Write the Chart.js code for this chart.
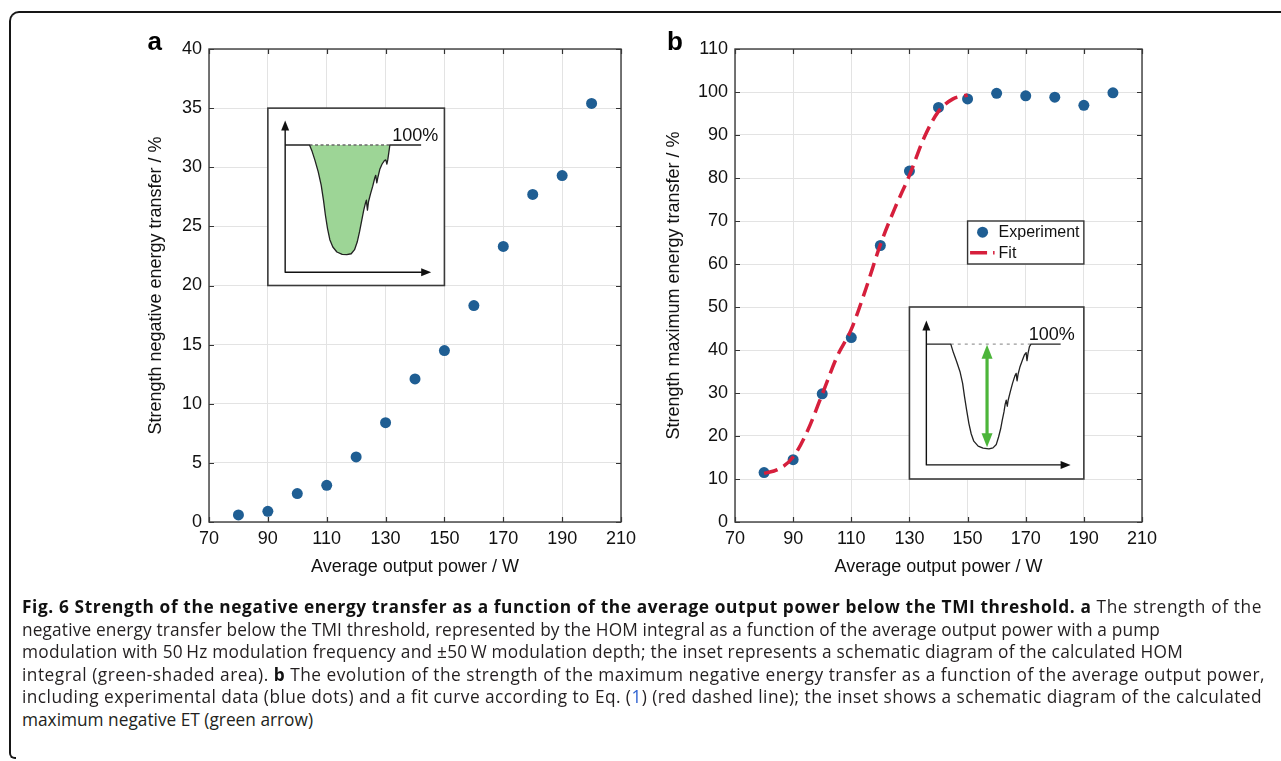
<!DOCTYPE html>
<html><head><meta charset="utf-8">
<script src="https://cdn.jsdelivr.net/npm/chart.js@4.4.1/dist/chart.umd.min.js"></script>
<style>
html,body{margin:0;padding:0;background:#fff;}
body{width:1281px;height:761px;position:relative;overflow:hidden;font-family:"Liberation Sans",Arial,sans-serif;}
canvas{position:absolute;top:0;}
#ca{left:100px;} #cb{left:640px;}
.frm1{position:absolute;left:9px;top:11px;width:1300px;height:720px;border-left:2px solid #161616;border-top:2px solid #161616;border-top-left-radius:10px;}
.frm2{position:absolute;left:9px;top:700px;width:5px;height:57px;border-left:2px solid #161616;border-bottom:2px solid #161616;border-bottom-left-radius:6px;}
.ln{position:absolute;left:22px;white-space:nowrap;font-family:"Open Sans","Noto Sans",sans-serif;font-size:17.3px;line-height:22px;color:#231f20;}
.ln b{font-weight:700;color:#111;}
.blue{color:#2a5fd0;}
</style></head>
<body>
<div class="frm1"></div><div class="frm2"></div>
<canvas id="ca" width="560" height="600"></canvas>
<canvas id="cb" width="560" height="600"></canvas>
<div class="ln" data-end="1262" style="top:596px"><b>Fig. 6 Strength of the negative energy transfer as a function of the average output power below the TMI threshold. a</b> The strength of the</div>
<div class="ln" data-end="1160" style="top:618.6px">negative energy transfer below the TMI threshold, represented by the HOM integral as a function of the average output power with a pump</div>
<div class="ln" data-end="1183" style="top:641.2px">modulation with 50&#8201;Hz modulation frequency and ±50&#8201;W modulation depth; the inset represents a schematic diagram of the calculated HOM</div>
<div class="ln" data-end="1265" style="top:663.8px">integral (green-shaded area). <b>b</b> The evolution of the strength of the maximum negative energy transfer as a function of the average output power,</div>
<div class="ln" data-end="1262" style="top:686.4px">including experimental data (blue dots) and a fit curve according to Eq. (<span class="blue">1</span>) (red dashed line); the inset shows a schematic diagram of the calculated</div>
<div class="ln" style="top:709px">maximum negative ET (green arrow)</div>
<script>
// ---------- DATA ----------
const xTickValues = [70, 90, 110, 130, 150, 170, 190, 210];
const yTickValuesA = [0, 5, 10, 15, 20, 25, 30, 35, 40];
const yTickValuesB = [0, 10, 20, 30, 40, 50, 60, 70, 80, 90, 100, 110];

const powerA = [80, 90, 100, 110, 120, 130, 140, 150, 160, 170, 180, 190, 200];
const strengthNegative = [0.6, 0.9, 2.4, 3.1, 5.5, 8.4, 12.1, 14.5, 18.3, 23.3, 27.7, 29.3, 35.4];

const powerB = [80, 90, 100, 110, 120, 130, 140, 150, 160, 170, 180, 190, 200];
const strengthMaximum = [11.5, 14.5, 29.8, 42.9, 64.3, 81.6, 96.4, 98.4, 99.7, 99.1, 98.8, 96.9, 99.8];

const fitPower = [80, 85, 90, 95, 100, 105, 110, 115, 120, 125, 130, 135, 140, 145, 150];
const fitStrength = [11.3, 12.3, 15.1, 21.3, 29.7, 38.3, 44.8, 54.2, 64.5, 73.0, 80.6, 89.3, 95.5, 98.4, 99.3];

const seriesLabels = ['Experiment', 'Fit'];

// schematic inset outlines (normalised 0..100 inside inset box)
const insetCurveA = [[23.6,20.8],[25.1,24.5],[26.6,29.2],[28.5,35.8],[30.2,43.4],[31.5,51.9],[32.6,60.4],[33.8,67.9],[35.1,74.2],[36.8,78.3],[39.1,81.1],[42.1,82.5],[44.7,82.6],[47.2,82.1],[49.1,79.8],[50.6,75.5],[51.9,69.8],[53.2,63.2],[54.3,57.5],[55.3,53.4],[55.8,51.9],[56.4,57.5],[57.0,52.8],[58.1,48.5],[59.4,44.0],[60.6,39.1],[61.1,37.9],[61.7,42.1],[62.3,39.1],[63.4,34.5],[64.7,31.5],[66.0,29.6],[66.8,29.2],[67.4,31.5],[67.9,29.2],[68.5,25.1],[69.1,20.8]];
const insetCurveB = [[23.7,21.6],[25.2,26.5],[27.1,31.8],[29.0,37.6],[30.5,44.4],[31.6,52.2],[32.8,60.0],[34.1,67.8],[35.4,73.7],[36.9,78.0],[39.4,80.9],[42.2,82.1],[45.6,82.5],[47.9,81.9],[49.8,79.9],[51.1,75.6],[52.3,70.8],[53.2,65.9],[54.2,61.0],[54.9,56.5],[55.5,54.2],[56.1,57.7],[56.6,54.2],[57.8,49.3],[59.1,44.4],[60.4,40.2],[61.2,38.6],[61.7,42.9],[62.3,39.0],[63.4,34.7],[64.8,30.8],[65.9,27.9],[66.9,26.5],[67.4,31.2],[68.0,26.9],[68.8,23.0],[69.7,21.6]];

// ---------- STYLE ----------
const FONT = '"Liberation Sans", Arial, sans-serif';
const DOT = '#1f5e93';
const RED = '#d61f3c';
const GREEN_FILL = '#9dd596';
const GREEN = '#4cb53a';

function insetBox(chart, b) {
  const xs = chart.scales.x, ys = chart.scales.y;
  const x0 = xs.getPixelForValue(b[0]), x1 = xs.getPixelForValue(b[1]);
  const y0 = ys.getPixelForValue(b[3]), y1 = ys.getPixelForValue(b[2]);
  return {x0, y0, W: x1 - x0, H: y1 - y0};
}

function drawInset(chart, spec) {
  const ctx = chart.ctx;
  const {x0, y0, W, H} = insetBox(chart, spec.box);
  const P = (u, v) => [x0 + u / 100 * W, y0 + v / 100 * H];
  ctx.save();
  ctx.fillStyle = '#fff'; ctx.fillRect(x0, y0, W, H);
  ctx.strokeStyle = '#3a3a3a'; ctx.lineWidth = 1.6; ctx.strokeRect(x0, y0, W, H);
  const c = spec.curve;
  if (spec.fill) {
    ctx.beginPath();
    c.forEach((p, i) => { const q = P(p[0], p[1]); i ? ctx.lineTo(q[0], q[1]) : ctx.moveTo(q[0], q[1]); });
    ctx.closePath(); ctx.fillStyle = spec.fill; ctx.fill();
  }
  ctx.beginPath(); ctx.setLineDash(spec.dash); ctx.strokeStyle = spec.dashColor; ctx.lineWidth = 1.4;
  let a = P(c[0][0], spec.base), e = P(c[c.length - 1][0], spec.base);
  ctx.moveTo(a[0], a[1]); ctx.lineTo(e[0], e[1]); ctx.stroke(); ctx.setLineDash([]);
  ctx.beginPath(); ctx.strokeStyle = '#222'; ctx.lineWidth = 1.3; ctx.lineJoin = 'round';
  let s = P(spec.axisU, spec.base); ctx.moveTo(s[0], s[1]);
  c.forEach(p => { const q = P(p[0], p[1]); ctx.lineTo(q[0], q[1]); });
  let f = P(spec.baseEnd, spec.base); ctx.lineTo(f[0], f[1]); ctx.stroke();
  ctx.beginPath(); ctx.strokeStyle = '#111'; ctx.lineWidth = 1.4;
  const o = P(spec.axisU, spec.axisV), t1 = P(spec.axisU, spec.tipV), t2 = P(spec.tipU, spec.axisV);
  ctx.moveTo(t1[0], t1[1] + 6); ctx.lineTo(o[0], o[1]); ctx.lineTo(t2[0] - 6, t2[1]); ctx.stroke();
  ctx.fillStyle = '#111';
  ctx.beginPath(); ctx.moveTo(t1[0], t1[1]); ctx.lineTo(t1[0] - 4, t1[1] + 10); ctx.lineTo(t1[0] + 4, t1[1] + 10); ctx.closePath(); ctx.fill();
  ctx.beginPath(); ctx.moveTo(t2[0], t2[1]); ctx.lineTo(t2[0] - 10, t2[1] - 4); ctx.lineTo(t2[0] - 10, t2[1] + 4); ctx.closePath(); ctx.fill();
  if (spec.arrow) {
    const top = P(spec.arrow[0], spec.arrow[1]), bot = P(spec.arrow[0], spec.arrow[2]);
    ctx.strokeStyle = GREEN; ctx.fillStyle = GREEN; ctx.lineWidth = 3.2;
    ctx.beginPath(); ctx.moveTo(top[0], top[1] + 10); ctx.lineTo(bot[0], bot[1] - 10); ctx.stroke();
    ctx.beginPath(); ctx.moveTo(top[0], top[1]); ctx.lineTo(top[0] - 5.5, top[1] + 14); ctx.lineTo(top[0] + 5.5, top[1] + 14); ctx.closePath(); ctx.fill();
    ctx.beginPath(); ctx.moveTo(bot[0], bot[1]); ctx.lineTo(bot[0] - 5.5, bot[1] - 14); ctx.lineTo(bot[0] + 5.5, bot[1] - 14); ctx.closePath(); ctx.fill();
  }
  const lp = P(spec.textU, spec.textV);
  ctx.fillStyle = '#111'; ctx.font = '18px ' + FONT; ctx.textAlign = 'left'; ctx.textBaseline = 'alphabetic';
  ctx.fillText('100%', lp[0], lp[1]);
  ctx.restore();
}

function drawLegend(chart, box) {
  const ctx = chart.ctx;
  const {x0, y0, W, H} = insetBox(chart, box);
  ctx.save();
  ctx.fillStyle = '#fff'; ctx.fillRect(x0, y0, W, H);
  ctx.strokeStyle = '#333'; ctx.lineWidth = 1.4; ctx.strokeRect(x0, y0, W, H);
  ctx.fillStyle = DOT; ctx.beginPath(); ctx.arc(x0 + 15, y0 + H * 0.26, 5.5, 0, Math.PI * 2); ctx.fill();
  ctx.strokeStyle = RED; ctx.lineWidth = 3.5; ctx.setLineDash([17, 6]);
  ctx.beginPath(); ctx.moveTo(x0 + 2.5, y0 + H * 0.74); ctx.lineTo(x0 + 27, y0 + H * 0.74); ctx.stroke(); ctx.setLineDash([]);
  ctx.fillStyle = '#111'; ctx.font = '16px ' + FONT; ctx.textBaseline = 'middle'; ctx.textAlign = 'left';
  ctx.fillText(seriesLabels[0], x0 + 31, y0 + H * 0.27);
  ctx.fillText(seriesLabels[1], x0 + 31, y0 + H * 0.75);
  ctx.restore();
}

const decorPlugin = {
  id: 'decor',
  afterDatasetsDraw(chart, args, opts) {
    if (opts.inset) drawInset(chart, opts.inset);
    if (opts.legendBox) drawLegend(chart, opts.legendBox);
  },
  afterDraw(chart, args, opts) {
    const {ctx, chartArea: {left, right, top, bottom}, scales: {x, y}} = chart;
    ctx.save();
    ctx.strokeStyle = '#333'; ctx.lineWidth = 1.2;
    ctx.beginPath();
    y.ticks.forEach(t => { const p = Math.round(y.getPixelForValue(t.value)) + 0.5;
      ctx.moveTo(left, p); ctx.lineTo(left + 5, p); ctx.moveTo(right, p); ctx.lineTo(right - 5, p); });
    x.ticks.forEach(t => { const p = Math.round(x.getPixelForValue(t.value)) + 0.5;
      ctx.moveTo(p, bottom); ctx.lineTo(p, bottom - 5); ctx.moveTo(p, top); ctx.lineTo(p, top + 5); });
    ctx.stroke();
    ctx.strokeStyle = '#3c3c3c'; ctx.lineWidth = 1.4;
    ctx.strokeRect(left, top, right - left, bottom - top);
    ctx.fillStyle = '#000'; ctx.font = 'bold 26px ' + FONT; ctx.textAlign = 'left'; ctx.textBaseline = 'alphabetic';
    ctx.fillText(opts.panel, opts.panelX, 50);
    ctx.restore();
  }
};

function axisX() {
  return {
    type: 'linear', min: xTickValues[0], max: xTickValues[xTickValues.length - 1],
    afterBuildTicks: s => { s.ticks = xTickValues.map(v => ({value: v})); },
    afterFit: s => { s.height = 78; },
    grid: {color: '#e3e3e3', lineWidth: 1, drawTicks: false},
    border: {display: false},
    ticks: {padding: 6, color: '#111', font: {family: FONT, size: 18}, maxRotation: 0, autoSkip: false},
    title: {display: true, text: 'Average output power / W', color: '#111', font: {family: FONT, size: 18}, padding: {top: 0, bottom: 22.5}}
  };
}
function axisY(vals, width, title, pt) {
  return {
    type: 'linear', min: vals[0], max: vals[vals.length - 1],
    afterBuildTicks: s => { s.ticks = vals.map(v => ({value: v})); },
    afterFit: s => { s.width = width; },
    grid: {color: '#e3e3e3', lineWidth: 1, drawTicks: false},
    border: {display: false},
    ticks: {padding: 7, color: '#111', font: {family: FONT, size: 18}, autoSkip: false},
    title: {display: true, text: title, color: '#111', font: {family: FONT, size: 18}, padding: {top: pt, bottom: 0}}
  };
}

new Chart(document.getElementById('ca'), {
  type: 'scatter',
  data: {datasets: [{
    label: seriesLabels[0],
    data: powerA.map((p, i) => ({x: p, y: strengthNegative[i]})),
    backgroundColor: DOT, borderWidth: 0, pointRadius: 5.5
  }]},
  options: {
    responsive: false, animation: false, events: [],
    layout: {padding: {left: 0, top: 49, right: 39, bottom: 0}},
    scales: {x: axisX(), y: axisY(yTickValuesA, 109, 'Strength negative energy transfer / %', 45.2)},
    plugins: {legend: {display: false}, tooltip: {enabled: false},
      decor: {panel: 'a', panelX: 47.5, inset: {
        box: [90, 150, 20, 35], curve: insetCurveA, fill: GREEN_FILL, base: 20.8,
        dash: [3, 2.5], dashColor: '#6a6a6a', axisU: 9.8, axisV: 92.5, tipV: 7.0, tipU: 92.5, baseEnd: 86.8,
        textU: 70.4, textV: 18.6}}}
  },
  plugins: [decorPlugin]
});

new Chart(document.getElementById('cb'), {
  type: 'scatter',
  data: {datasets: [{
    label: seriesLabels[1],
    data: fitPower.map((p, i) => ({x: p, y: fitStrength[i]})),
    showLine: true, borderColor: RED, borderWidth: 3.5, borderDash: [14, 7], pointRadius: 0,
    cubicInterpolationMode: 'monotone', fill: false, order: 0
  }, {
    label: seriesLabels[0],
    data: powerB.map((p, i) => ({x: p, y: strengthMaximum[i]})),
    backgroundColor: DOT, borderWidth: 0, pointRadius: 5.5, order: 1
  }]},
  options: {
    responsive: false, animation: false, events: [],
    layout: {padding: {left: 0, top: 49, right: 58, bottom: 0}},
    scales: {x: axisX(), y: axisY(yTickValuesB, 95, 'Strength maximum energy transfer / %', 23.7)},
    plugins: {legend: {display: false}, tooltip: {enabled: false},
      decor: {panel: 'b', panelX: 27, legendBox: [150, 190, 60, 70], inset: {
        box: [130, 190, 10, 50], curve: insetCurveB, fill: null, base: 21.6,
        dash: [3, 4], dashColor: '#9a9a9a', axisU: 9.7, axisV: 91.8, tipV: 7.8, tipU: 92.4, baseEnd: 86.7,
        arrow: [44.5, 22.0, 81.5], textU: 68.4, textV: 19.3}}}
  },
  plugins: [decorPlugin]
});

function fitLines() {
  document.querySelectorAll('.ln[data-end]').forEach(el => {
    el.style.letterSpacing = '0px';
    const w = el.getBoundingClientRect().width;
    const target = parseFloat(el.dataset.end) - 22;
    const n = el.textContent.length;
    el.style.letterSpacing = ((target - w) / n) + 'px';
  });
}
fitLines();
if (document.fonts && document.fonts.ready) document.fonts.ready.then(fitLines);
</script>
</body></html>
